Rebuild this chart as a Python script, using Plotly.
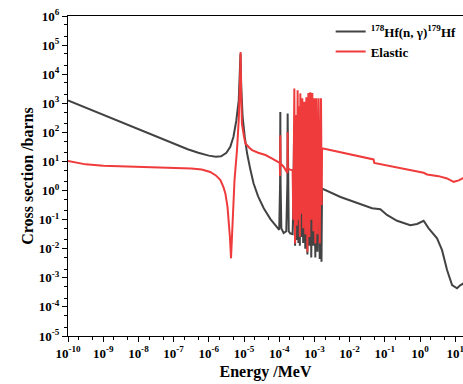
import numpy as np
import plotly.graph_objects as go

# ---- data (log10 of energy in MeV, log10 of cross section in barns) ----
capture_logE = [
    -10.0, -9.5, -9.0, -8.5, -8.0, -7.5, -7.0, -6.6, -6.3, -6.0, -5.8, -5.65, -5.5, -5.39, -5.30,
    -5.22, -5.15, -5.12, -5.10, -5.08, -5.04, -4.98, -4.915, -4.82, -4.73, -4.60, -4.44, -4.25,
    -4.10, -4.00, -3.975, -3.969, -3.962, -3.94, -3.875, -3.80, -3.767, -3.761, -3.755, -3.73,
    -3.69, -3.62, -3.60, -3.575, -3.55, -3.52, -3.50, -3.48, -3.455, -3.43, -3.415, -3.40, -3.375,
    -3.344, -3.32, -3.287, -3.26, -3.23, -3.20, -3.173, -3.145, -3.116, -3.09, -3.06, -3.03,
    -3.003, -2.975, -2.946, -2.915, -2.881, -2.85, -2.813, -2.80, -2.784, -2.26, -1.886, -1.364,
    -1.128, -0.94, -0.653, -0.276, -0.085, 0.102, 0.245, 0.483, 0.625, 0.767, 0.91, 1.05, 1.15, 1.24,
]
capture_logS = [
    3.10, 2.85, 2.60, 2.35, 2.10, 1.85, 1.61, 1.42, 1.30, 1.20, 1.16, 1.18, 1.30, 1.50, 1.85,
    2.40, 3.10, 3.80, 4.70, 3.60, 2.53, 1.85, 1.29, 0.72, 0.25, -0.20, -0.61, -0.98,
    -1.20, -1.35, 0.30, 2.70, 0.30, -1.30, -1.46, -1.40, 0.30, 2.65, 0.30, -1.40,
    -1.47, -1.50, -0.50, 2.30, -1.90, 2.20, -1.70, 2.30, -1.80, 2.00, -1.90, 2.20, -1.60,
    2.10, -1.80, 2.00, -2.00, 2.10, -2.20, 2.20, -1.90, 2.20, -2.30, 2.20, -1.90,
    2.00, -2.30, 2.00, -2.10, 2.00, -2.35, 1.50, -2.45, 0.07, -0.22, -0.39, -0.61,
    -0.64, -0.84, -1.04, -1.19, -1.15, -1.04, -1.30, -1.645, -2.05, -2.73, -3.25, -3.36, -3.25, -3.19,
]

elastic_logE = [
    -10.0, -9.5, -9.0, -8.0, -7.0, -6.5, -6.2, -5.96, -5.8, -5.67, -5.58, -5.53, -5.47, -5.44,
    -5.40, -5.369, -5.345, -5.32, -5.27, -5.20, -5.15, -5.12, -5.097, -5.08, -5.06, -5.00, -4.96,
    -4.85, -4.77, -4.60, -4.39, -4.20, -4.00, -3.985, -3.975, -3.969, -3.962, -3.875, -3.767,
    -3.761, -3.755, -3.69, -3.62, -3.60, -3.571, -3.55, -3.52, -3.50, -3.477, -3.455, -3.43,
    -3.415, -3.40, -3.375, -3.344, -3.32, -3.287, -3.26, -3.23, -3.20, -3.173, -3.145, -3.116,
    -3.09, -3.06, -3.03, -3.003, -2.975, -2.946, -2.915, -2.881, -2.85, -2.813, -2.795, -2.784,
    -1.32, -1.30, 0.102, 0.199, 0.528, 0.767, 0.955, 1.10, 1.24,
]
elastic_logS = [
    1.02, 0.90, 0.85, 0.81, 0.79, 0.76, 0.72, 0.64, 0.52, 0.36, 0.10, -0.10, -0.55, -0.90,
    -1.60, -2.33, -1.50, -1.02, 0.36, 1.39, 2.42, 3.50, 4.76, 3.30, 2.30, 1.85, 1.62,
    1.47, 1.39, 1.30, 1.22, 1.10, 0.97, 0.95, 0.50, 1.90, 0.93, 0.82, 0.60,
    2.00, 0.75, 0.72, 0.70, -1.00, 3.51, -1.82, 2.60, -1.20, 3.45, -1.00, 2.90,
    -1.59, 3.34, -0.80, 3.17, -1.30, 3.05, -1.50, 3.21, -2.10, 3.35, -1.60, 3.38,
    -1.00, 3.35, -1.40, 3.17, -1.82, 3.17, -1.50, 3.17, -1.82, 3.17, -0.50, 1.45,
    1.07, 0.95, 0.61, 0.553, 0.495, 0.416, 0.30, 0.35, 0.44,
]

x_tick_exps = list(range(-10, 2))
y_tick_exps = list(range(-5, 7))

series_names = ["<sup>178</sup>Hf(n, \u03b3)<sup>179</sup>Hf", "Elastic"]
series_colors = ["#434343", "#ef3b3b"]

FONT = "Liberation Serif"

fig = go.Figure()
fig.add_trace(go.Scatter(
    x=10 ** np.array(capture_logE), y=10 ** np.array(capture_logS),
    mode="lines", name=series_names[0],
    line=dict(color=series_colors[0], width=2),
))
fig.add_trace(go.Scatter(
    x=10 ** np.array(elastic_logE), y=10 ** np.array(elastic_logS),
    mode="lines", name=series_names[1],
    line=dict(color=series_colors[1], width=2),
))

axis_common = dict(
    type="log",
    showline=True, linecolor="black", linewidth=1.2,
    ticks="outside", ticklen=5, tickwidth=1, tickcolor="black",
    minor=dict(ticks="outside", ticklen=3, tickwidth=1, tickcolor="black", showgrid=False),
    showgrid=False, zeroline=False, ticklabeloverflow="allow",
    tickfont=dict(family=FONT, size=13, color="black", weight="bold"),
)

fig.update_xaxes(
    **axis_common, range=[-10, 1.22], mirror=True,
    tickvals=[10.0 ** e for e in x_tick_exps],
    ticktext=[f"10<sup>{e}</sup>" for e in x_tick_exps],
    title=dict(text="Energy /MeV", font=dict(family=FONT, size=16, color="black", weight="bold"),
               standoff=6),
)
fig.update_yaxes(
    **axis_common, range=[-5, 6],
    tickvals=[10.0 ** e for e in y_tick_exps],
    ticktext=[f"10<sup>{e}</sup>" for e in y_tick_exps],
    title=dict(text="Cross section /barns", font=dict(family=FONT, size=16, color="black", weight="bold"),
               standoff=1),
)

fig.update_layout(
    width=463, height=384,
    margin=dict(l=68, r=0, t=16, b=48, autoexpand=False),
    plot_bgcolor="white", paper_bgcolor="white",
    showlegend=True,
    legend=dict(x=0.665, y=0.998, xanchor="left", yanchor="top",
                bgcolor="rgba(0,0,0,0)", borderwidth=0,
                font=dict(family=FONT, size=13, color="black", weight="bold"),
                tracegroupgap=0, itemwidth=30),
)

fig.write_html("out.html", config={"displayModeBar": False},
               post_script="document.body.style.margin='0';document.body.style.overflow='hidden';")
